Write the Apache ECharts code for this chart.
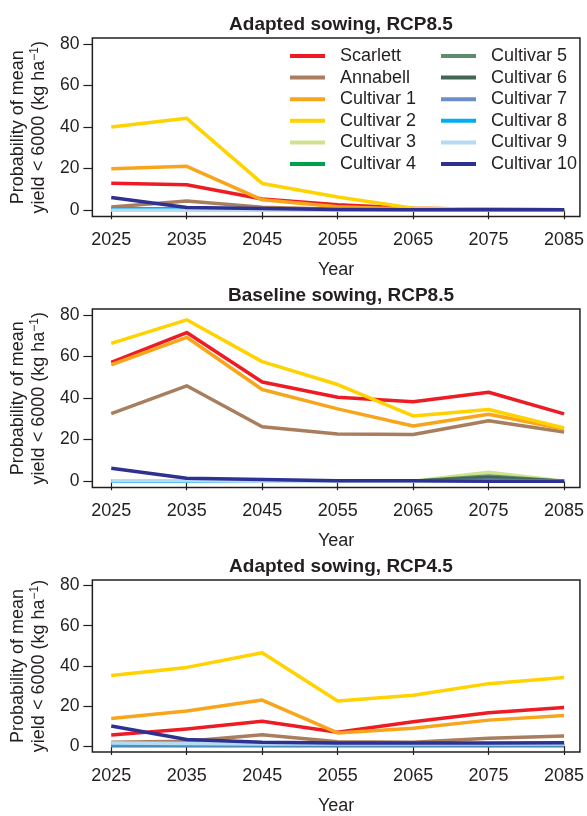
<!DOCTYPE html>
<html>
<head>
<meta charset="utf-8">
<script src="https://cdn.jsdelivr.net/npm/echarts@6/dist/echarts.min.js"></script>
<style>
html,body{margin:0;padding:0;background:#fff;}
#chart{width:587px;height:816px;}
</style>
</head>
<body>
<div id="chart"></div>
<script>
// ---------- data ----------
const years = [2025, 2035, 2045, 2055, 2065, 2075, 2085];
const yTicks = [0, 20, 40, 60, 80];
const cultivars = ['Scarlett', 'Annabell', 'Cultivar 1', 'Cultivar 2', 'Cultivar 3', 'Cultivar 4',
                   'Cultivar 5', 'Cultivar 6', 'Cultivar 7', 'Cultivar 8', 'Cultivar 9', 'Cultivar 10'];
const panelTitles = ['Adapted sowing, RCP8.5', 'Baseline sowing, RCP8.5', 'Adapted sowing, RCP4.5'];

// Panel 1: Adapted sowing, RCP8.5
const adapted85Scarlett = [13, 12.3, 5.4, 2.6, 1, 0.5, 0.3];
const adapted85Annabell = [1.6, 4.4, 1.4, 0.5, 0.3, 0.2, 0.2];
const adapted85C1  = [20, 21.1, 5, 1.7, 0.5, 0.3, 0.2];
const adapted85C2  = [40, 44.2, 12.9, 6.4, 1, 0.5, 0.3];
const adapted85C3  = [0, 0, 0, 0, 0, 0, 0];
const adapted85C4  = [0, 0, 0, 0, 0, 0, 0];
const adapted85C5  = [0, 0, 0, 0, 0, 0, 0];
const adapted85C6  = [0, 0, 0, 0, 0, 0, 0];
const adapted85C7  = [0, 0, 0, 0, 0, 0, 0];
const adapted85C8  = [0.7, 0.7, 0.3, 0.1, 0, 0, 0];
const adapted85C9  = [0, 0, 0, 0, 0, 0, 0];
const adapted85C10 = [6.1, 1.3, 0.8, 0.4, 0.3, 0.2, 0.2];

// Panel 2: Baseline sowing, RCP8.5
const baseline85Scarlett = [57.2, 71.5, 47.7, 40.4, 38.2, 42.8, 32.4];
const baseline85Annabell = [32.5, 45.9, 26.2, 22.7, 22.5, 29.1, 23.7];
const baseline85C1  = [56, 69.2, 44.1, 34.8, 26.6, 32.2, 25.1];
const baseline85C2  = [66.3, 77.6, 57.5, 46.5, 31.4, 34.5, 25.6];
const baseline85C3  = [0, 0, 0, 0, 0, 4.3, 0];
const baseline85C4  = [0, 0, 0, 0, 0, 1, 0];
const baseline85C5  = [0, 0, 0, 0, 0, 2.5, 0];
const baseline85C6  = [0, 0, 0, 0, 0, 1.8, 0];
const baseline85C7  = [0, 0, 0, 0, 0, 0.5, 0];
const baseline85C8  = [0, 0, 0, 0, 0, 0, 0];
const baseline85C9  = [0.3, 0.3, 0, 0, 0, 0, 0];
const baseline85C10 = [6.3, 1.4, 0.8, 0.3, 0.2, 0, 0];

// Panel 3: Adapted sowing, RCP4.5
const adapted45Scarlett = [5.5, 8.5, 12.3, 6.8, 12.1, 16.6, 19.2];
const adapted45Annabell = [1.9, 2.4, 5.6, 2.1, 1.9, 3.9, 5];
const adapted45C1  = [13.7, 17.4, 22.9, 6.5, 8.9, 12.9, 15.2];
const adapted45C2  = [35.2, 39.2, 46.5, 22.4, 25.3, 31.1, 34.2];
const adapted45C3  = [0.3, 0.3, 0.3, 0.3, 0.3, 0.3, 0.3];
const adapted45C4  = [0.4, 0.4, 0.4, 0.4, 0.4, 0.4, 0.4];
const adapted45C5  = [0.3, 0.3, 0.3, 0.3, 0.3, 0.3, 0.3];
const adapted45C6  = [0.3, 0.3, 0.3, 0.3, 0.3, 0.3, 0.3];
const adapted45C7  = [0.5, 0.5, 0.5, 0.5, 0.5, 0.5, 0.5];
const adapted45C8  = [0.8, 0.8, 0.8, 0.8, 0.8, 0.8, 0.8];
const adapted45C9  = [1.5, 1.2, 1, 1, 1, 1, 1];
const adapted45C10 = [10, 3.2, 1.9, 1.5, 1.5, 1.5, 1.6];

const panels = [
  [adapted85Scarlett, adapted85Annabell, adapted85C1, adapted85C2, adapted85C3, adapted85C4,
   adapted85C5, adapted85C6, adapted85C7, adapted85C8, adapted85C9, adapted85C10],
  [baseline85Scarlett, baseline85Annabell, baseline85C1, baseline85C2, baseline85C3, baseline85C4,
   baseline85C5, baseline85C6, baseline85C7, baseline85C8, baseline85C9, baseline85C10],
  [adapted45Scarlett, adapted45Annabell, adapted45C1, adapted45C2, adapted45C3, adapted45C4,
   adapted45C5, adapted45C6, adapted45C7, adapted45C8, adapted45C9, adapted45C10]
];

// ---------- styles ----------
const colors = ['#ED1C24', '#A97E5E', '#F9A51B', '#FFD200', '#CFE28E', '#00A14B',
                '#5F8B6E', '#436652', '#6D8DC9', '#00AEEF', '#B6DAF2', '#2E3192'];
const ink = '#231F20';
const font = '"Liberation Sans", Arial, Helvetica, sans-serif';
const gridTops = [38, 309, 580];
const gridH = 178.5;

const chart = echarts.init(document.getElementById('chart'), null, {renderer: 'canvas'});

const grids = [], xAxes = [], yAxes = [], titles = [], series = [];
gridTops.forEach((top, p) => {
  grids.push({left: 89, top: top, width: 493, height: gridH, show: true,
              borderColor: ink, borderWidth: 1.5, backgroundColor: 'transparent', containLabel: false});
  xAxes.push({
    type: 'value', gridIndex: p, min: 2022.5, max: 2087.1,
    name: 'Year', nameLocation: 'middle', nameGap: 45,
    nameTextStyle: {fontFamily: font, fontSize: 18, color: ink},
    axisLine: {show: false},
    splitLine: {show: false},
    axisTick: {show: true, inside: false, length: 9, customValues: years, lineStyle: {color: ink, width: 1.2}},
    axisLabel: {show: true, margin: 15, customValues: years, fontFamily: font, fontSize: 18, color: ink,
                formatter: v => String(v)}
  });
  yAxes.push({
    type: 'value', gridIndex: p, min: -3, max: 82.8,
    name: '{a|Probability of mean}\n{a|yield < 6000 (kg ha}{s|−1}{a|)}',
    nameLocation: 'middle', nameRotate: 90, nameGap: 34,
    nameTextStyle: {
      fontFamily: font, fontSize: 18, color: ink, lineHeight: 20.5,
      rich: {
        a: {fontFamily: font, fontSize: 18, color: ink, lineHeight: 20.5},
        s: {fontFamily: font, fontSize: 12, color: ink, lineHeight: 20.5, verticalAlign: 'top', padding: [0, 0, 8, 0]}
      }
    },
    axisLine: {show: false},
    splitLine: {show: false},
    axisTick: {show: true, inside: false, length: 9, customValues: yTicks, lineStyle: {color: ink, width: 1.2}},
    axisLabel: {show: true, margin: 13, customValues: yTicks, fontFamily: font, fontSize: 17.5, color: ink}
  });
  titles.push({
    text: panelTitles[p], left: 336, top: top - 28, textAlign: 'center',
    textStyle: {fontFamily: font, fontSize: 19, fontWeight: 'bold', color: ink}
  });
  panels[p].forEach((vals, i) => {
    series.push({
      type: 'line', name: cultivars[i], xAxisIndex: p, yAxisIndex: p,
      data: years.map((y, j) => [y, vals[j]]),
      symbol: 'none', showSymbol: false, animation: false, silent: true,
      color: colors[i], itemStyle: {color: colors[i]},
      lineStyle: {color: colors[i], width: 3.5, join: 'round', cap: 'butt'}
    });
  });
});

const legendBase = {
  orient: 'vertical', top: 47, padding: 0, itemGap: 3.6, itemWidth: 35, itemHeight: 4,
  icon: 'rect', selectedMode: false,
  textStyle: {fontFamily: font, fontSize: 18, color: ink, lineHeight: 18, padding: [0, 0, 0, 10]}
};

chart.setOption({
  animation: false,
  backgroundColor: '#fff',
  title: titles,
  grid: grids,
  xAxis: xAxes,
  yAxis: yAxes,
  legend: [
    Object.assign({}, legendBase, {left: 290, data: cultivars.slice(0, 6)}),
    Object.assign({}, legendBase, {left: 441, data: cultivars.slice(6)})
  ],
  series: series
});
</script>
</body>
</html>
